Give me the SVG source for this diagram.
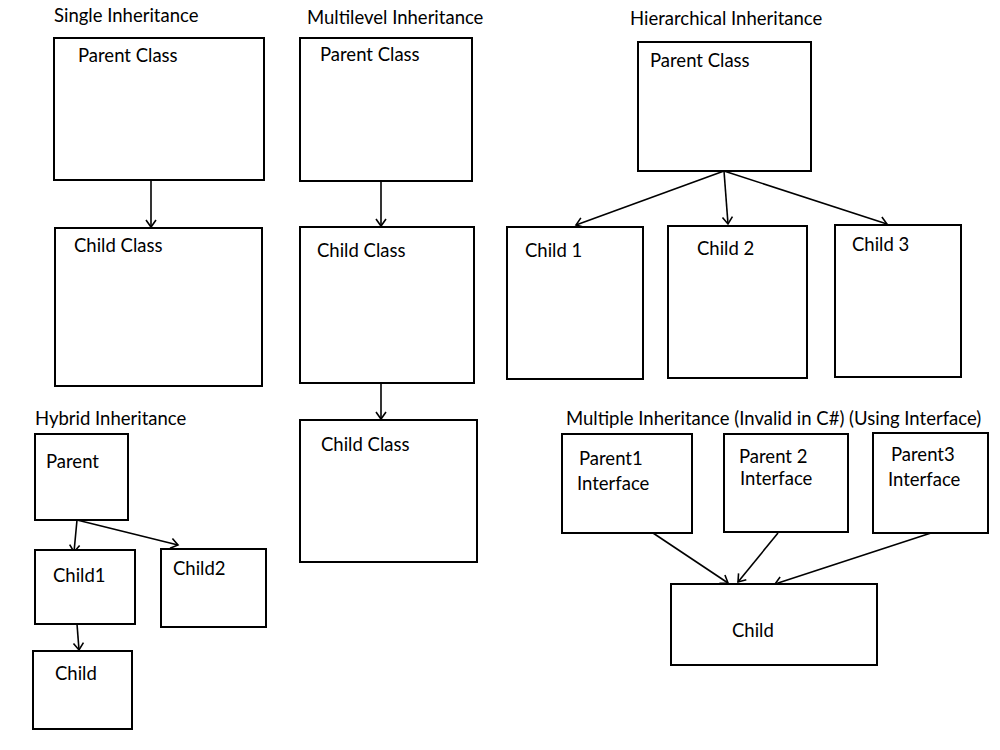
<svg xmlns="http://www.w3.org/2000/svg" width="1000" height="750" viewBox="0 0 1000 750">
<style>
text{font-family:Lato,"Open Sans","Liberation Sans",sans-serif;font-size:18.5px;fill:#000}
.box{fill:#fff;stroke:#000;stroke-width:2}
.c{stroke:#000;stroke-width:1.6;fill:none;marker-end:url(#ah)}
</style>
<defs>
<marker id="ah" markerWidth="12" markerHeight="12" refX="10" refY="6" orient="auto" markerUnits="userSpaceOnUse">
<path d="M3,1 L10,6 L3,11" fill="none" stroke="#000" stroke-width="1.6"/>
</marker>
</defs>
<rect width="1000" height="750" fill="#fff"/>
<g id="titles">
<text x="54" y="22">Single Inheritance</text>
<text x="307" y="24">Multilevel Inheritance</text>
<text x="630" y="25">Hierarchical Inheritance</text>
<text x="35" y="425">Hybrid Inheritance</text>
<text x="566" y="425">Multiple Inheritance (Invalid in C#) (Using Interface)</text>
</g>
<g id="connectors">
<line class="c" x1="151" y1="178" x2="151" y2="227"/>
<line class="c" x1="381" y1="181" x2="381" y2="226"/>
<line class="c" x1="381" y1="383" x2="381" y2="419"/>
<line class="c" x1="724" y1="171" x2="576" y2="225"/>
<line class="c" x1="724" y1="171" x2="728" y2="224"/>
<line class="c" x1="724" y1="171" x2="887" y2="224"/>
<line class="c" x1="77" y1="520" x2="74" y2="552"/>
<line class="c" x1="77" y1="520" x2="178" y2="545"/>
<line class="c" x1="77" y1="624" x2="79" y2="650"/>
<line class="c" x1="653" y1="533" x2="728" y2="583"/>
<line class="c" x1="778" y1="533" x2="738" y2="582"/>
<line class="c" x1="931" y1="533" x2="775" y2="584"/>
</g>
<g id="single-parent"><rect class="box" x="54" y="38" width="210" height="142"/><text x="78" y="62">Parent Class</text></g>
<g id="single-child"><rect class="box" x="55" y="228" width="207" height="158"/><text x="74" y="252">Child Class</text></g>
<g id="multi-parent"><rect class="box" x="300" y="38" width="172" height="143"/><text x="320" y="61">Parent Class</text></g>
<g id="multi-child1"><rect class="box" x="300" y="227" width="174" height="156"/><text x="317" y="257">Child Class</text></g>
<g id="multi-child2"><rect class="box" x="300" y="420" width="177" height="142"/><text x="321" y="451">Child Class</text></g>
<g id="hier-parent"><rect class="box" x="638" y="42" width="173" height="129"/><text x="650" y="67">Parent Class</text></g>
<g id="hier-child1"><rect class="box" x="507" y="227" width="136" height="152"/><text x="525" y="257">Child 1</text></g>
<g id="hier-child2"><rect class="box" x="668" y="226" width="139" height="152"/><text x="697" y="255">Child 2</text></g>
<g id="hier-child3"><rect class="box" x="835" y="225" width="126" height="152"/><text x="852" y="251">Child 3</text></g>
<g id="hyb-parent"><rect class="box" x="35" y="434" width="93" height="86"/><text x="46" y="468">Parent</text></g>
<g id="hyb-child1"><rect class="box" x="35" y="550" width="100" height="74"/><text x="53" y="582">Child1</text></g>
<g id="hyb-child2"><rect class="box" x="161" y="549" width="105" height="78"/><text x="173" y="575">Child2</text></g>
<g id="hyb-child"><rect class="box" x="33" y="651" width="99" height="78"/><text x="55" y="680">Child</text></g>
<g id="mult-parent1"><rect class="box" x="562" y="434" width="130" height="99"/><text x="579" y="465">Parent1</text><text x="577" y="490">Interface</text></g>
<g id="mult-parent2"><rect class="box" x="724" y="434" width="124" height="98"/><text x="739" y="463">Parent 2</text><text x="740" y="485">Interface</text></g>
<g id="mult-parent3"><rect class="box" x="873" y="433" width="115" height="100"/><text x="891" y="461">Parent3</text><text x="888" y="486">Interface</text></g>
<g id="mult-child"><rect class="box" x="671" y="584" width="206" height="81"/><text x="732" y="637">Child</text></g>
</svg>
